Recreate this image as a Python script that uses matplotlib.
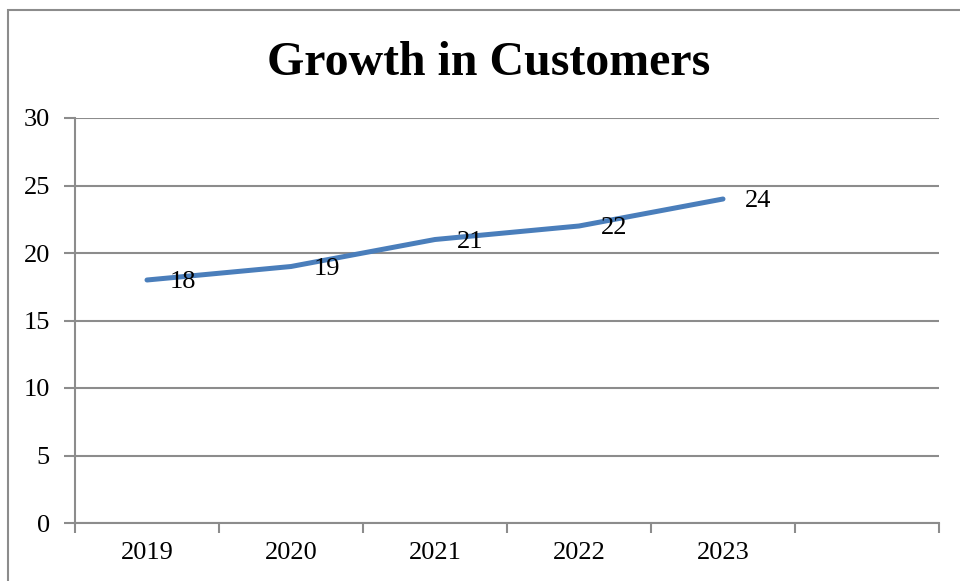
import matplotlib.pyplot as plt
import numpy as np
from matplotlib.patches import Rectangle

years = ["2019", "2020", "2021", "2022", "2023"]
customers = [18, 19, 21, 22, 24]
y_ticks = [0, 5, 10, 15, 20, 25, 30]

plt.rcParams['font.family'] = ['Liberation Serif', 'DejaVu Serif']

fig = plt.figure(figsize=(9.6, 5.81), dpi=100)
ax = fig.add_axes([75 / 960, 1 - 523 / 581, 864 / 960, 405 / 581])

grey = '#8c8c8c'

# outer chart frame (only top and left edges fall inside the image)
fig.patches.append(Rectangle((8 / 960, -0.1), 1.2, 1 - 10 / 581 + 0.1,
                             transform=fig.transFigure, fill=False,
                             edgecolor=grey, linewidth=1.5))

# one extra empty category slot on the right
xs = np.arange(len(years)) + 0.5
ax.plot(xs, customers, color='#4a7ebb', linewidth=3.6, solid_capstyle='round')

for x, v in zip(xs, customers):
    ax.annotate(str(v), (x, v), xytext=(16, -1.5), textcoords='offset points',
                ha='left', va='center', fontsize=19, zorder=5)

ax.set_xlim(0, len(years) + 1)
ax.set_ylim(0, 30)
ax.set_yticks(y_ticks)
ax.set_yticklabels([str(t) for t in y_ticks], fontsize=19)
ax.set_xticks(xs)
ax.set_xticklabels(years, fontsize=19)
ax.set_xticks(np.arange(len(years) + 2), minor=True)

ax.tick_params(axis='x', which='major', length=0, pad=14)
ax.tick_params(axis='x', which='minor', length=7, width=1.5, color=grey)
ax.tick_params(axis='y', length=8, width=1.5, color=grey, pad=10)

ax.grid(axis='y', color=grey, linewidth=1.5)
ax.set_axisbelow(True)
for side in ['top', 'right']:
    ax.spines[side].set_visible(False)
for side in ['left', 'bottom']:
    ax.spines[side].set_color(grey)
    ax.spines[side].set_linewidth(1.5)

fig.text(489 / 960, 1 - 63 / 581, "Growth in Customers", ha='center', va='center',
         fontsize=34.5, fontweight='bold')

fig.savefig('out.png', dpi=100)
